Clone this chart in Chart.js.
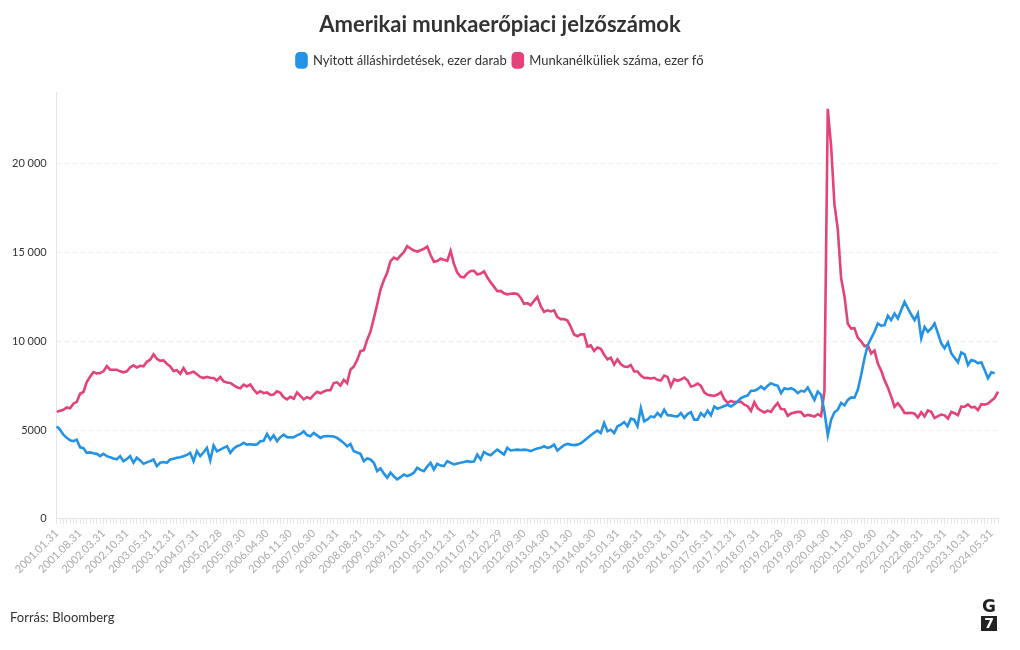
<!DOCTYPE html>
<html lang="hu">
<head>
<meta charset="utf-8">
<script src="https://cdn.jsdelivr.net/npm/chart.js@4"></script>
<style>
  html, body { margin: 0; padding: 0; background: #fff; }
  #wrap { position: relative; width: 1020px; height: 650px; }
  #forras { position: absolute; left: 10px; top: 609px; font: 13px Lato, sans-serif; color: #333; }
  #logo { position: absolute; left: 981px; top: 598px; width: 16px; text-align: center; font: bold 17px "DejaVu Sans", sans-serif; color: #222; line-height: 17px; }
  #logo span { display: block; margin-top: 1px; background: #222; color: #fff; font-size: 14px; line-height: 15px; height: 15px; }
</style>
</head>
<body>
<div id="wrap">
  <canvas id="munkaChart" width="1020" height="650"></canvas>
  <div id="forras">Forrás: Bloomberg</div>
  <div id="logo">G<span>7</span></div>
</div>
<script>
// havi adatok 2001.01-tol 2024.07-ig
const startYear = 2001;
const monthCount = 283;

// Nyitott álláshirdetések, ezer darab (2024.07 meg nincs)
const allashirdetesek = [
  5210, 5020, 4740, 4560, 4420, 4370, 4460, 4030, 3980, 3715, 3740, 3690,
  3660, 3530, 3660, 3530, 3470, 3400, 3350, 3530, 3250, 3370, 3530, 3160,
  3440, 3290, 3100, 3180, 3250, 3340, 2970, 3160, 3200, 3160, 3340, 3380,
  3440, 3470, 3530, 3600, 3715, 3250, 3810, 3530, 3750, 4000, 3300, 4130,
  3810, 3900, 4000, 4090, 3715, 3950, 4090, 4150, 4280, 4180, 4200, 4180,
  4190, 4370, 4400, 4780, 4460, 4700, 4370, 4600, 4740, 4600, 4590, 4600,
  4700, 4780, 4930, 4720, 4650, 4840, 4700, 4560, 4650, 4660, 4650, 4640,
  4560, 4420, 4276, 4090, 4220, 3810, 3740, 3660, 3250, 3400, 3345, 3160,
  2690, 2840, 2560, 2316, 2600, 2400, 2222, 2350, 2500, 2410, 2480, 2600,
  2880, 2760, 2690, 2950, 3157, 2784, 3100, 3000, 2970, 3250, 3150, 3064,
  3120, 3157, 3200, 3250, 3210, 3230, 3620, 3345, 3770, 3650, 3580, 3750,
  3900, 3760, 3620, 4000, 3850, 3880, 3900, 3880, 3900, 3880, 3810, 3900,
  3960, 4000, 4090, 4000, 4050, 4180, 3850, 4000, 4150, 4220, 4180, 4150,
  4180, 4250, 4400, 4550, 4705, 4850, 4970, 4836, 5396, 4930, 5020, 4836,
  5210, 5300, 5450, 5210, 5640, 5585, 5210, 6236, 5490, 5600, 5770, 5715,
  5960, 5770, 6143, 5830, 5825, 5780, 5770, 5960, 5680, 5900, 6010, 5585,
  5585, 5955, 5770, 6090, 5826, 6330, 6200, 6275, 6350, 6425, 6330, 6450,
  6610, 6797, 6890, 6950, 7210, 7210, 7300, 7450, 7300, 7500, 7636, 7545,
  7490, 7077, 7357, 7300, 7357, 7265, 7077, 7210, 7170, 7395, 7050, 6700,
  7170, 6985, 6050, 4710, 5585, 6000, 6145, 6520, 6390, 6700, 6840, 6820,
  7263, 8100, 9040, 9790, 10160, 10530, 11000, 10870, 10900, 11430, 11190, 11560,
  11280, 11750, 12210, 11840, 11500, 11190, 11560, 10160, 10800, 10530, 10720, 11000,
  10440, 9880, 9600, 9930, 9320, 9070, 8810, 9370, 9260, 8660, 8940, 8890,
  8760, 8810, 8380, 7910, 8250, 8190, null
];

// Munkanélküliek száma, ezer fő
const munkanelkuliek = [
  6023, 6089, 6141, 6271, 6226, 6484, 6583, 7042, 7142, 7694, 8003, 8258,
  8182, 8215, 8304, 8599, 8399, 8393, 8390, 8304, 8251, 8307, 8520, 8640,
  8520, 8618, 8588, 8842, 8957, 9266, 9011, 8896, 8921, 8732, 8576, 8317,
  8370, 8167, 8491, 8170, 8212, 8286, 8136, 7990, 7927, 7992, 7944, 7934,
  7784, 7980, 7737, 7672, 7651, 7524, 7406, 7345, 7553, 7453, 7566, 7279,
  7064, 7184, 7072, 7120, 6980, 7001, 7175, 7091, 6847, 6727, 6872, 6762,
  7116, 6927, 6731, 6850, 6766, 6979, 7149, 7067, 7170, 7237, 7240, 7645,
  7685, 7497, 7822, 7637, 8395, 8575, 8937, 9438, 9494, 10074, 10538, 11286,
  12058, 12898, 13426, 13853, 14499, 14707, 14601, 14814, 15009, 15352, 15219, 15098,
  15046, 15113, 15202, 15325, 14849, 14474, 14512, 14648, 14579, 14516, 15081, 14348,
  13863, 13627, 13590, 13817, 13953, 13958, 13756, 13806, 13929, 13599, 13309, 13071,
  12812, 12828, 12696, 12636, 12668, 12688, 12657, 12449, 12106, 12141, 12026, 12272,
  12497, 11967, 11653, 11735, 11671, 11736, 11357, 11241, 11251, 11161, 10814, 10376,
  10280, 10387, 10384, 9696, 9761, 9453, 9648, 9568, 9237, 8983, 9071, 8688,
  8979, 8705, 8575, 8549, 8660, 8300, 8297, 8063, 7927, 7934, 7902, 7942,
  7825, 7790, 8063, 7991, 7459, 7855, 7771, 7841, 7958, 7798, 7450, 7498,
  7615, 7484, 7126, 6983, 6953, 6916, 6997, 7135, 6737, 6527, 6639, 6572,
  6585, 6585, 6426, 6343, 6070, 6569, 6222, 6087, 5990, 6092, 6024, 6305,
  6519, 6181, 6173, 5800, 5928, 5981, 6025, 6009, 5778, 5860, 5812, 5753,
  5892, 5787, 7185, 23078, 20985, 17697, 16308, 13542, 12535, 10980, 10711, 10736,
  10185, 9995, 9719, 9778, 9307, 9472, 8748, 8346, 7808, 7390, 6878, 6316,
  6515, 6274, 5963, 5955, 5972, 5920, 5699, 6000, 5765, 6102, 6023, 5676,
  5785, 5870, 5828, 5647, 6024, 5944, 5836, 6323, 6315, 6438, 6274, 6305,
  6124, 6458, 6429, 6492, 6649, 6811, 7163
];

const yTicks = [0, 5000, 10000, 15000, 20000];

// honap vegi datumok: 2001.01.31, 2001.02.28, ...
const labels = [];
for (let i = 0; i < monthCount; i++) {
  const y = startYear + Math.floor(i / 12);
  const m = i % 12;
  const lastDay = new Date(y, m + 1, 0).getDate();
  labels.push(y + '.' + String(m + 1).padStart(2, '0') + '.' + lastDay);
}

function formatNum(v) {
  if (v < 10000) return String(v);
  return String(v).replace(/\B(?=(\d{3})+(?!\d))/g, ' ');
}

// kis tavolsag a jelmagyarazat alatt
const legendMargin = {
  id: 'legendMargin',
  beforeInit(chart) {
    const origFit = chart.legend.fit;
    chart.legend.fit = function () {
      origFit.bind(chart.legend)();
      this.height += 15;
    };
  }
};

const ctx = document.getElementById('munkaChart').getContext('2d');
new Chart(ctx, {
  type: 'line',
  data: {
    labels: labels,
    datasets: [
      {
        label: 'Nyitott álláshirdetések, ezer darab',
        data: allashirdetesek,
        borderColor: '#2493e6',
        backgroundColor: '#2493e6',
        borderWidth: 2.6,
        pointRadius: 0,
        tension: 0
      },
      {
        label: 'Munkanélküliek száma, ezer fő',
        data: munkanelkuliek,
        borderColor: '#e4427a',
        backgroundColor: '#e4427a',
        borderWidth: 2.6,
        pointRadius: 0,
        tension: 0
      }
    ]
  },
  options: {
    responsive: false,
    animation: false,
    layout: { padding: { left: 2, right: 22, top: 0, bottom: 71 } },
    plugins: {
      title: {
        display: true,
        text: 'Amerikai munkaerőpiaci jelzőszámok',
        color: '#333',
        font: { family: 'Lato', size: 22, weight: 'bold' },
        padding: { top: 12, bottom: 9 }
      },
      legend: {
        labels: {
          color: '#333',
          font: { family: 'Lato', size: 13 },
          boxWidth: 10,
          boxHeight: 14,
          useBorderRadius: true,
          borderRadius: 3,
          padding: 6
        }
      },
      tooltip: { enabled: false }
    },
    scales: {
      x: {
        grid: {
          drawOnChartArea: false,
          drawTicks: true,
          tickLength: 5,
          color: '#e6e6e6'
        },
        border: { color: '#e6e6e6' },
        ticks: {
          autoSkip: false,
          maxRotation: 45,
          minRotation: 45,
          color: '#aaa',
          font: { family: 'Lato', size: 11 },
          callback: function (val, i) {
            return i % 7 === 0 ? labels[i] : '';
          }
        }
      },
      y: {
        min: 0,
        max: 24000,
        afterBuildTicks: function (scale) {
          scale.ticks = yTicks.map(v => ({ value: v }));
        },
        grid: {
          color: '#ebebeb',
          drawTicks: false
        },
        border: { color: '#e6e6e6', dash: [4, 4] },
        ticks: {
          color: '#333',
          padding: 10,
          font: { family: 'Lato', size: 11 },
          callback: v => formatNum(v)
        }
      }
    }
  },
  plugins: [legendMargin]
});
</script>
</body>
</html>
